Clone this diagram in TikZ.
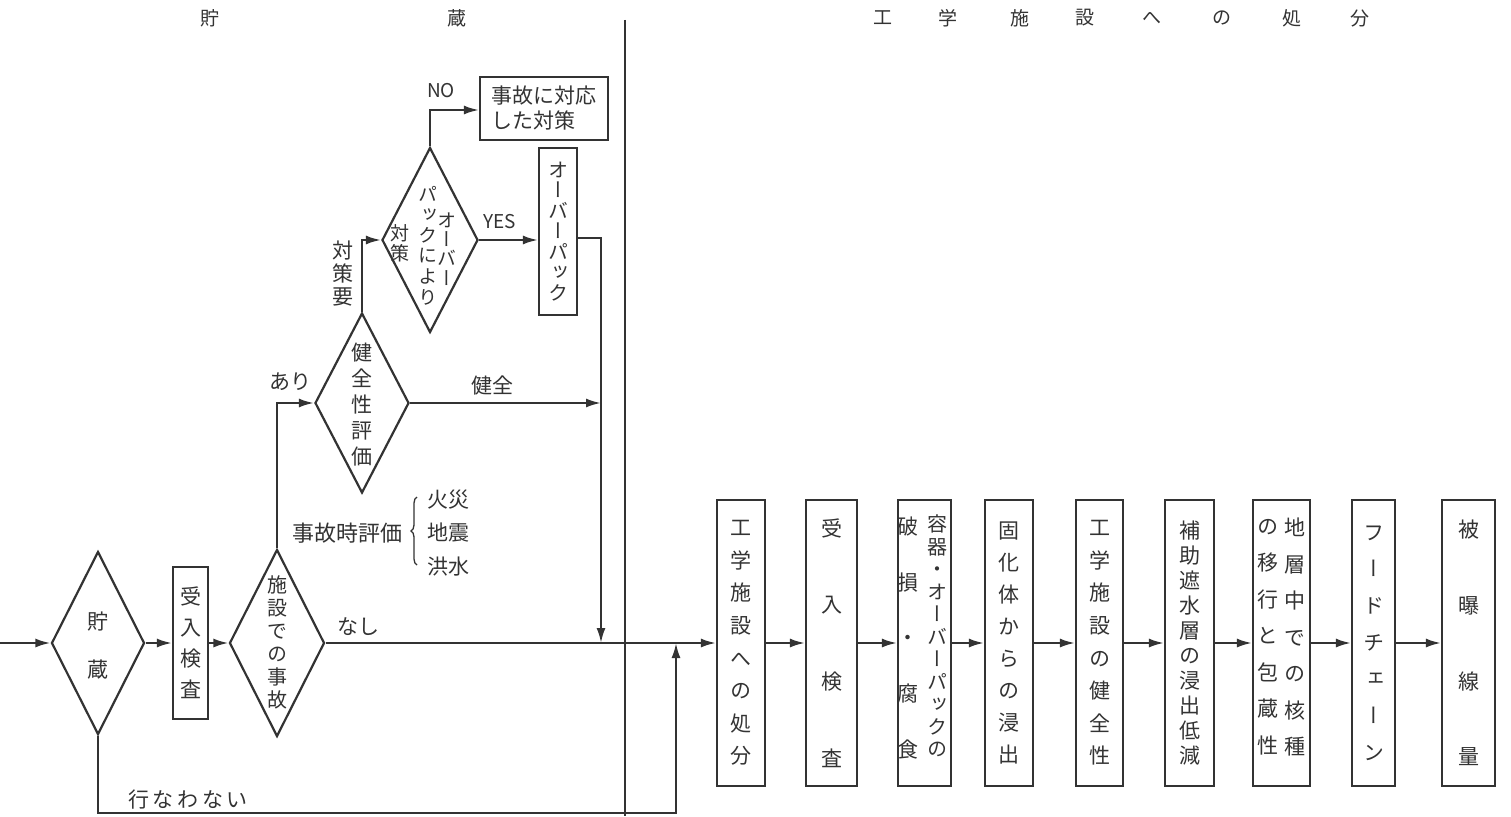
\documentclass[tikz,border=0pt]{standalone}
\usepackage{fontspec}
\setmainfont{Noto Sans CJK JP}
\newfontfamily\vjp[RawFeature=+vert]{Noto Sans CJK JP}
\usetikzlibrary{shapes.geometric,arrows.meta,decorations.pathreplacing}
\definecolor{ink}{HTML}{333333}
\begin{document}
\begin{tikzpicture}[x=1pt,y=-1pt,
 every node/.style={text=ink},
 ln/.style={draw=ink,line width=2.2pt},
 arr/.style={ln,-{Latex[length=15pt,width=9pt]}},
 dia/.style={diamond,ln,inner sep=0pt},
 box/.style={rectangle,ln,inner sep=0pt},
 lbl/.style={inner sep=0pt,font=\fontsize{21}{24}\selectfont},
 hdr/.style={inner sep=0pt,font=\fontsize{19}{21}\selectfont},
 vt/.style 2 args={align=center,inner sep=0pt,font=\vjp\fontsize{#1}{#2}\selectfont},
]
\fill[white] (0,0) rectangle (1511,816);
\useasboundingbox (0,0) rectangle (1511,816);

% headers
\node[hdr] (h1) at (210,18) {貯};
\node[hdr] (h2) at (457,18) {蔵};
\foreach \x/\c [count=\i] in {883/工,948/学,1020/施,1085/設,1152/へ,1222/の,1292/処,1360/分}
  \node[hdr] (hr\i) at (\x,18) {\c};

% divider
\coordinate (dvT) at (625,20);
\coordinate (dvB) at (625,816);
\draw[ln] (dvT) -- (dvB);

% left part
\coordinate (in) at (0,643);
\node[dia,minimum width=93pt,minimum height=183pt] (d1) at (98,643) {};
\node[vt={21}{48}] (t1) at (98,646) {貯\\蔵};
\node[box,minimum width=35pt,minimum height=152pt,vt={21}{31}] (b1) at (190.5,643) {受\\入\\検\\査};
\node[dia,minimum width=95pt,minimum height=187pt] (d2) at (277,643) {};
\node[vt={20}{23}] (t2) at (277,642) {施\\設\\で\\の\\事\\故};
\node[dia,minimum width=94pt,minimum height=180pt] (d3) at (362,403) {};
\node[vt={21}{26}] (t3) at (362,405) {健\\全\\性\\評\\価};
\node[dia,minimum width=96pt,minimum height=185pt] (d4) at (430,240) {};
\node[vt={19}{19.3}] (t4a) at (447,249) {オ\\ー\\バ\\ー};
\node[vt={19}{20.6}] (t4b) at (428,245.5) {パ\\ッ\\ク\\に\\よ\\り};
\node[vt={19}{20}] (t4c) at (400,243) {対\\策};
\node[box,minimum width=128pt,minimum height=63pt,align=left,font=\fontsize{21}{25}\selectfont] (no) at (544,108.5) {事故に対応\\した対策};
\node[box,minimum width=38pt,minimum height=167pt,vt={20}{20.5}] (op) at (558,231.5) {オ\\ー\\バ\\ー\\パ\\ッ\\ク};

% labels
\node[inner sep=0pt,font=\fontsize{19}{22}\selectfont] (lno) at (441,91) {NO};
\node[inner sep=0pt,font=\fontsize{19}{22}\selectfont] (lyes) at (500,222) {YES};
\node[vt={21}{23}] (ltaisaku) at (343,274) {対\\策\\要};
\node[lbl] (lari) at (290,382) {あり};
\node[lbl] (lkenzen) at (492,385) {健全};
\node[lbl] (lnashi) at (358,627) {なし};
\node[lbl] (lokona) at (188,800) {行\,な\,わ\,な\,い};
\node[lbl,font=\fontsize{22}{24}\selectfont] (ljiko) at (347,533) {事故時評価};
\coordinate (brB) at (417,565);
\coordinate (brT) at (417,497);
\draw[draw=ink,line width=1.3pt,decorate,decoration={brace,amplitude=6pt}] (brB) -- (brT);
\node[lbl] (lk1) at (448,500) {火災};
\node[lbl] (lk2) at (448,533) {地震};
\node[lbl] (lk3) at (448,567) {洪水};

% right boxes
\tikzset{rb/.style={box,minimum height=286pt}}
\node[rb,minimum width=48pt,vt={21}{32.6}] (R1) at (741,643) {工\\学\\施\\設\\へ\\の\\処\\分};
\node[rb,minimum width=51pt,vt={21}{76.7}] (R2) at (831.5,643) {受\\入\\検\\査};
\node[rb,minimum width=53pt] (R3) at (924.5,643) {};
\node[vt={20}{22.5}] (R3a) at (937,636) {容\\器\\・\\オ\\ー\\バ\\ー\\パ\\ッ\\ク\\の};
\node[vt={21}{55.7}] (R3b) at (908,638) {破\\損\\・\\腐\\食};
\node[rb,minimum width=48pt,vt={21}{31.9}] (R4) at (1009,643) {固\\化\\体\\か\\ら\\の\\浸\\出};
\node[rb,minimum width=47pt,vt={21}{32.6}] (R5) at (1099.5,643) {工\\学\\施\\設\\の\\健\\全\\性};
\node[rb,minimum width=49pt,vt={21}{25}] (R6) at (1189.5,643) {補\\助\\遮\\水\\層\\の\\浸\\出\\低\\減};
\node[rb,minimum width=57pt] (R7) at (1281.5,643) {};
\node[vt={21}{36.5}] (R7a) at (1295,637) {地\\層\\中\\で\\の\\核\\種};
\node[vt={21}{36.5}] (R7b) at (1268,637) {の\\移\\行\\と\\包\\蔵\\性};
\node[rb,minimum width=43pt,vt={21}{36.7}] (R8) at (1373.5,643) {フ\\ー\\ド\\チ\\ェ\\ー\\ン};
\node[rb,minimum width=53pt,vt={21}{75.7}] (R9) at (1468.5,643) {被\\曝\\線\\量};

\foreach \a/\b in {R1/R2,R2/R3,R3/R4,R4/R5,R5/R6,R6/R7,R7/R8,R8/R9}
  \draw[arr] (\a.east) -- (\b.west);

% connectors
\draw[arr] (in) -- (d1.west);
\draw[arr] (d1.east) -- (b1.west);
\draw[arr] (b1.east) -- (d2.west);
\draw[arr] (d2.north) |- (d3.west);
\coordinate (j1) at (601,403);
\draw[arr] (d3.east) -- (j1);
\draw[arr] (d3.north) |- (d4.west);
\coordinate (nt) at (430,110);
\draw[arr] (d4.north) -- (nt) -- (nt -| no.west);
\draw[arr] (d4.east) -- (d4.east -| op.west);
\coordinate (r1) at (601,238);
\coordinate (r2) at (601,643);
\draw[arr] (op.east |- r1) -- (r1) -- (r2);
\draw[arr] (d2.east) -- (R1.west);
\coordinate (s1) at (98,813);
\coordinate (s2) at (676,813);
\coordinate (s3) at (676,643);
\draw[arr] (d1.south) -- (s1) -- (s2) -- (s3);
\end{tikzpicture}
\end{document}
